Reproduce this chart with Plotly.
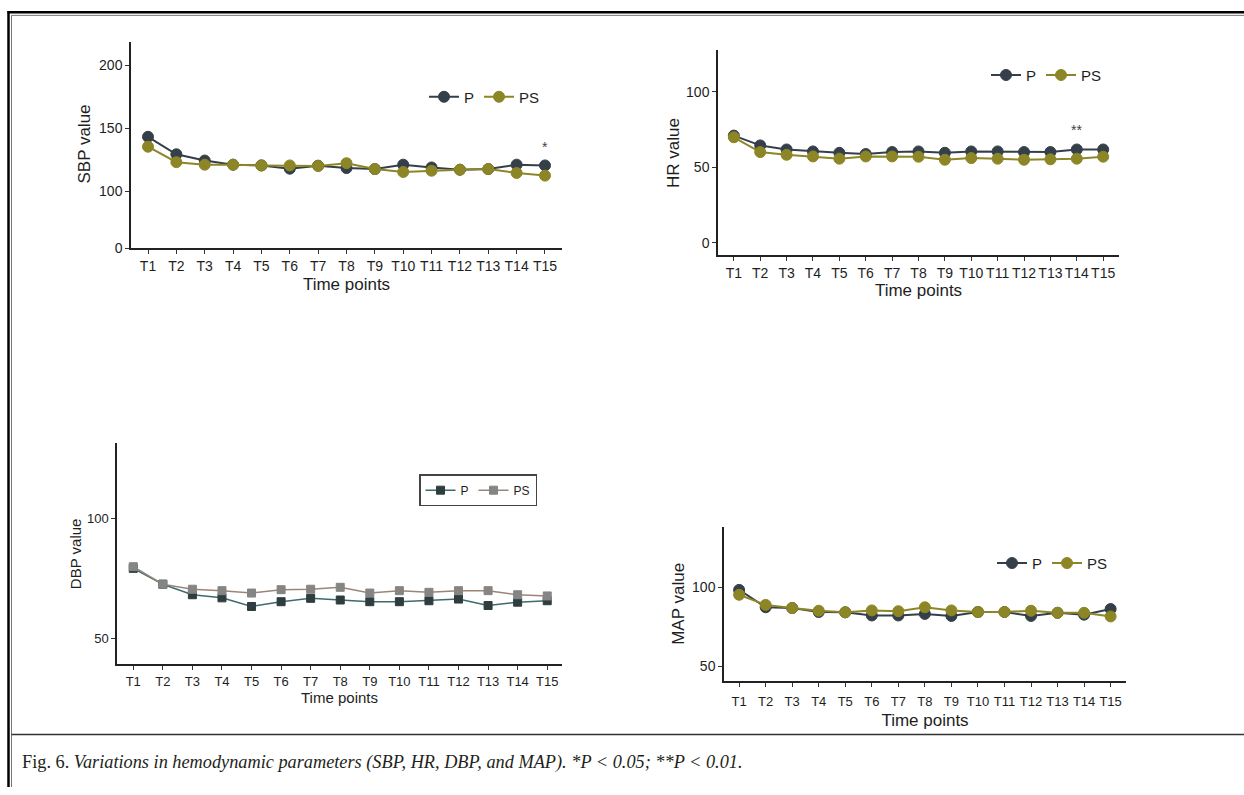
import plotly.graph_objects as go

W, H = 1244, 795

time_points = ["T1", "T2", "T3", "T4", "T5", "T6", "T7", "T8", "T9", "T10", "T11", "T12", "T13", "T14", "T15"]

sbp_p = [143.2, 129.3, 124.3, 121.0, 120.4, 117.8, 120.2, 118.3, 117.5, 121.0, 118.8, 117.0, 117.5, 121.0, 120.4]
sbp_ps = [135.3, 123.0, 121.0, 121.0, 120.4, 120.4, 120.0, 122.2, 117.5, 115.2, 116.2, 117.0, 117.5, 114.4, 112.3]

hr_p = [71.1, 64.6, 61.9, 60.6, 59.7, 58.9, 60.2, 60.6, 59.7, 60.6, 60.6, 60.2, 60.2, 61.9, 61.9]
hr_ps = [70.0, 60.2, 58.4, 57.3, 55.8, 57.3, 57.3, 57.1, 55.1, 56.2, 55.8, 55.1, 55.4, 55.8, 57.1]

dbp_p = [79.3, 72.7, 68.3, 67.0, 63.4, 65.4, 66.8, 66.1, 65.4, 65.4, 65.8, 66.5, 63.8, 65.2, 65.8]
dbp_ps = [80.0, 72.7, 70.6, 70.0, 69.0, 70.4, 70.6, 71.4, 69.0, 70.0, 69.3, 70.0, 70.0, 68.3, 67.8]

map_p = [98.5, 87.5, 87.0, 84.5, 84.3, 82.3, 82.3, 83.3, 82.0, 84.5, 84.5, 82.0, 84.0, 82.8, 86.4]
map_ps = [95.4, 89.0, 87.0, 85.3, 84.3, 85.5, 85.0, 87.5, 85.5, 84.5, 84.5, 85.3, 84.0, 84.0, 81.7]

caption_lead = "Fig. 6. "
caption_body = "Variations in hemodynamic parameters (SBP, HR, DBP, and MAP). *P &lt; 0.05; **P &lt; 0.01."

C_P = "#343f49"
C_PS = "#8c8626"
C_DBP_P = "#2f3d3f"
C_DBP_P_LINE = "#3d6b6b"
C_DBP_PS = "#858585"
C_DBP_PS_LINE = "#9b8575"

FONT = "Liberation Sans, Arial, sans-serif"
TXT = "#1e1e1e"


def px_x(p):
    return p / W


def px_y(p):
    return 1 - p / H


fig = go.Figure()


def add_pair(xa, ya, yp, yps, legend, cp, cpl, cps, cpsl, symbol, msize, lw):
    fig.add_trace(go.Scatter(x=time_points, y=yp, name="P", mode="lines+markers",
                             xaxis=xa, yaxis=ya, legend=legend,
                             line=dict(color=cpl, width=lw),
                             marker=dict(color=cp, size=msize, symbol=symbol,
                                         line=dict(color=cp, width=1))))
    fig.add_trace(go.Scatter(x=time_points, y=yps, name="PS", mode="lines+markers",
                             xaxis=xa, yaxis=ya, legend=legend,
                             line=dict(color=cpsl, width=lw),
                             marker=dict(color=cps, size=msize, symbol=symbol,
                                         line=dict(color=cps, width=1))))


add_pair("x", "y", sbp_p, sbp_ps, "legend", C_P, C_P, C_PS, C_PS, "circle", 11, 2)
add_pair("x2", "y3", hr_p, hr_ps, "legend2", C_P, C_P, C_PS, C_PS, "circle", 11, 2)
add_pair("x3", "y4", dbp_p, dbp_ps, "legend3", C_DBP_P, C_DBP_P_LINE, C_DBP_PS, C_DBP_PS_LINE, "square", 8, 1.5)
add_pair("x4", "y5", map_p, map_ps, "legend4", C_P, C_P, C_PS, C_PS, "circle", 11, 2)

# empty trace so the compressed lower segment (0-100) of the SBP axis is drawn
fig.add_trace(go.Scatter(x=[], y=[], xaxis="x", yaxis="y2", showlegend=False, hoverinfo="skip"))

axis_common = dict(showline=True, linecolor="#222222", linewidth=1.5, ticks="outside",
                   ticklen=4, tickcolor="#333333", tickwidth=1, showgrid=False, zeroline=False,
                   tickfont=dict(family=FONT, size=14, color=TXT))


def xaxis(domain, anchor, rng, tsize=14, title_size=17, standoff=4, tls=0):
    d = dict(axis_common)
    d.update(domain=[px_x(domain[0]), px_x(domain[1])], anchor=anchor, type="category",
             categoryorder="array", categoryarray=time_points, range=rng,
             tickfont=dict(family=FONT, size=tsize, color=TXT), ticklabelstandoff=tls,
             title=dict(text="Time points", font=dict(family=FONT, size=title_size, color=TXT),
                        standoff=standoff))
    return d


def yaxis(domain_px, anchor, rng, tickvals, title=None, tsize=14, title_size=17, standoff=6):
    d = dict(axis_common)
    d.update(domain=[px_y(domain_px[1]), px_y(domain_px[0])], anchor=anchor, range=rng,
             tickvals=tickvals, tickfont=dict(family=FONT, size=tsize, color=TXT))
    if title:
        d["title"] = dict(text=title, font=dict(family=FONT, size=title_size, color=TXT),
                          standoff=standoff)
    return d


layout = dict(
    width=W, height=H, margin=dict(l=0, r=0, t=0, b=0),
    paper_bgcolor="white", plot_bgcolor="white", showlegend=True,
    font=dict(family=FONT, color=TXT),
    # SBP (broken axis: 0-100 compressed below, 100-219 above)
    xaxis=xaxis((131, 562), "y2", [-0.6, 14.6], standoff=5),
    yaxis=yaxis((42, 193), "x", [100, 219], [100, 150, 200]),
    yaxis2=yaxis((193, 251), "x", [0, 100], [0]),
    # HR
    xaxis2=xaxis((718, 1119), "y3", [-0.6, 14.6]),
    yaxis3=yaxis((51, 258), "x2", [-8.3, 127.5], [0, 50, 100], title="HR value", standoff=2),
    # DBP
    xaxis3=xaxis((117, 562), "y4", [-0.55, 14.5], tsize=13, title_size=15, standoff=2),
    yaxis4=yaxis((448, 671), "x3", [39.3, 131.4], [50, 100], title="DBP value", tsize=13,
                 title_size=15, standoff=2),
    # MAP
    xaxis4=xaxis((724, 1126), "y5", [-0.57, 14.58], tsize=13, tls=4, standoff=6),
    yaxis5=yaxis((532, 688), "x4", [40.8, 138.5], [50, 100], title="MAP value", standoff=3),
)

leg_font = dict(family=FONT, size=15, color=TXT)
layout["legend"] = dict(orientation="h", x=px_x(424), y=px_y(98), xanchor="left", yanchor="middle",
                        font=leg_font, bgcolor="rgba(0,0,0,0)", itemwidth=30)
layout["legend2"] = dict(orientation="h", x=px_x(986), y=px_y(76), xanchor="left", yanchor="middle",
                         font=leg_font, bgcolor="rgba(0,0,0,0)", itemwidth=30)
layout["legend3"] = dict(orientation="h", x=px_x(419), y=px_y(479), xanchor="left", yanchor="top",
                         font=dict(family=FONT, size=12, color=TXT), bgcolor="white",
                         bordercolor="#444444", borderwidth=1.5, itemwidth=30)
layout["legend4"] = dict(orientation="h", x=px_x(992), y=px_y(569), xanchor="left", yanchor="middle",
                         font=leg_font, bgcolor="rgba(0,0,0,0)", itemwidth=30)

fig.update_layout(**layout)

# SBP y title centred on the whole broken axis
fig.add_annotation(text="SBP value", x=px_x(85), y=px_y(146), xref="paper", yref="paper",
                   xanchor="center", yanchor="middle",
                   textangle=-90, showarrow=False, font=dict(family=FONT, size=17, color=TXT))

# significance marks
fig.add_annotation(text="*", x="T15", y=135, xref="x", yref="y", showarrow=False,
                   font=dict(family=FONT, size=14, color="#444444"))
fig.add_annotation(text="**", x="T14", y=75, xref="x2", yref="y3", showarrow=False,
                   font=dict(family=FONT, size=14, color="#444444"))

# caption
fig.add_annotation(text=caption_lead + "<i>" + caption_body + "</i>", x=px_x(20), y=px_y(770),
                   xref="paper", yref="paper", xanchor="left", yanchor="middle", showarrow=False,
                   font=dict(family="Liberation Serif, Times New Roman, serif", size=18.3, color="#231f20"))

# frame lines
shapes = [
    dict(type="line", xref="paper", yref="paper", x0=px_x(8.5), x1=px_x(8.5), y0=0, y1=px_y(11),
         line=dict(color="black", width=2.5)),
    dict(type="line", xref="paper", yref="paper", x0=px_x(7.5), x1=1, y0=px_y(12.5), y1=px_y(12.5),
         line=dict(color="black", width=2.5)),
    dict(type="line", xref="paper", yref="paper", x0=px_x(11.5), x1=px_x(11.5), y0=0, y1=px_y(15.5),
         line=dict(color="#777777", width=1)),
    dict(type="line", xref="paper", yref="paper", x0=px_x(11.5), x1=1, y0=px_y(15.5), y1=px_y(15.5),
         line=dict(color="#777777", width=1)),
    dict(type="line", xref="paper", yref="paper", x0=px_x(11.5), x1=1, y0=px_y(742), y1=px_y(742),
         line=dict(color="#333333", width=1.5)),
]
fig.update_layout(shapes=shapes)

fig.write_html("out.html", config=dict(displayModeBar=False),
               post_script="document.body.style.margin='0';document.body.style.overflow='hidden';")
